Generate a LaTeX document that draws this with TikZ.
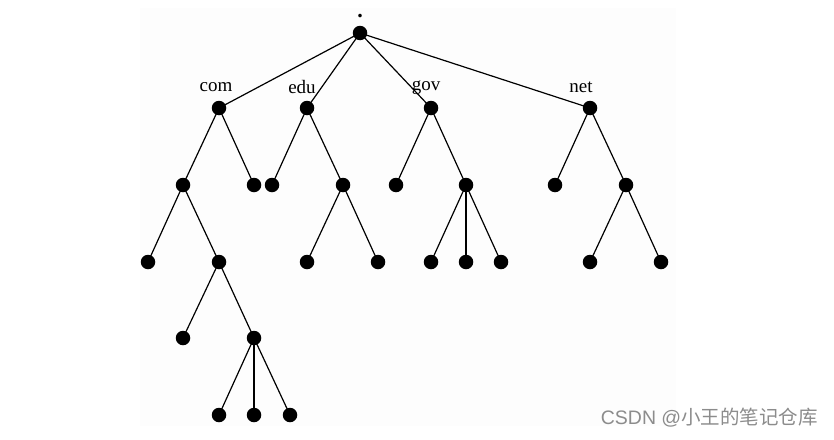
\documentclass[tikz,border=0pt]{standalone}
\usepackage{fontspec}
\setmainfont{Liberation Serif}
\newfontfamily\cjkfont{Noto Sans CJK SC}
\begin{document}
\begin{tikzpicture}[x=1pt,y=-1pt,
  dot/.style={circle,fill=black,inner sep=0pt,minimum size=14.5pt},
  lbl/.style={font=\fontsize{19}{21}\selectfont,inner sep=0pt},
  edge/.style={line width=1.2pt}]
\useasboundingbox (0,0) rectangle (834,439);
\fill[white] (0,0) rectangle (834,439);
\fill[black!0.6] (140,8) rectangle (676,426);
% nodes
\node[dot] (r) at (360,33) {};
\node[dot] (com) at (219,108) {};
\node[dot] (edu) at (307,108) {};
\node[dot] (gov) at (431,108) {};
\node[dot] (net) at (590,108) {};
\node[dot] (c1) at (183,185) {};
\node[dot] (c2) at (254,185) {};
\node[dot] (e1) at (272,185) {};
\node[dot] (e2) at (343,185) {};
\node[dot] (g1) at (396,185) {};
\node[dot] (g2) at (466,185) {};
\node[dot] (n1) at (555,185) {};
\node[dot] (n2) at (626,185) {};
\node[dot] (c11) at (148,262) {};
\node[dot] (c12) at (219,262) {};
\node[dot] (e21) at (307,262) {};
\node[dot] (e22) at (378,262) {};
\node[dot] (g21) at (431,262) {};
\node[dot] (g22) at (466,262) {};
\node[dot] (g23) at (501,262) {};
\node[dot] (n21) at (590,262) {};
\node[dot] (n22) at (661,262) {};
\node[dot] (c121) at (183,338) {};
\node[dot] (c122) at (254,338) {};
\node[dot] (d1) at (219,415) {};
\node[dot] (d2) at (254,415) {};
\node[dot] (d3) at (290,415) {};
% labels
\node[lbl,font=\fontsize{22}{24}\selectfont\bfseries] (lr) at (360,16) {.};
\node[lbl] (lcom) at (216,87) {com};
\node[lbl] (ledu) at (302,87) {edu};
\node[lbl] (lgov) at (426,88) {gov};
\node[lbl] (lnet) at (581,87) {net};
% edges
\draw[edge] (r.center) -- (com.center);
\draw[edge] (r.center) -- (edu.center);
\draw[edge] (r.center) -- (gov.center);
\draw[edge] (r.center) -- (net.center);
\draw[edge] (com.center) -- (c1.center);
\draw[edge] (com.center) -- (c2.center);
\draw[edge] (edu.center) -- (e1.center);
\draw[edge] (edu.center) -- (e2.center);
\draw[edge] (gov.center) -- (g1.center);
\draw[edge] (gov.center) -- (g2.center);
\draw[edge] (net.center) -- (n1.center);
\draw[edge] (net.center) -- (n2.center);
\draw[edge] (c1.center) -- (c11.center);
\draw[edge] (c1.center) -- (c12.center);
\draw[edge] (e2.center) -- (e21.center);
\draw[edge] (e2.center) -- (e22.center);
\draw[edge] (g2.center) -- (g21.center);
\draw[edge] (g2.center) -- (g22.center);
\draw[edge] (g2.center) -- (g23.center);
\draw[edge] (n2.center) -- (n21.center);
\draw[edge] (n2.center) -- (n22.center);
\draw[edge] (c12.center) -- (c121.center);
\draw[edge] (c12.center) -- (c122.center);
\draw[edge] (c122.center) -- (d1.center);
\draw[edge] (c122.center) -- (d2.center);
\draw[edge] (c122.center) -- (d3.center);
% watermark
\node[anchor=east,inner sep=0pt,text=black!45,font=\fontsize{19.5}{21}\selectfont] (wm) at (818,418) {\fontspec{Liberation Sans}CSDN @\cjkfont 小王的笔记仓库};
\end{tikzpicture}
\end{document}
